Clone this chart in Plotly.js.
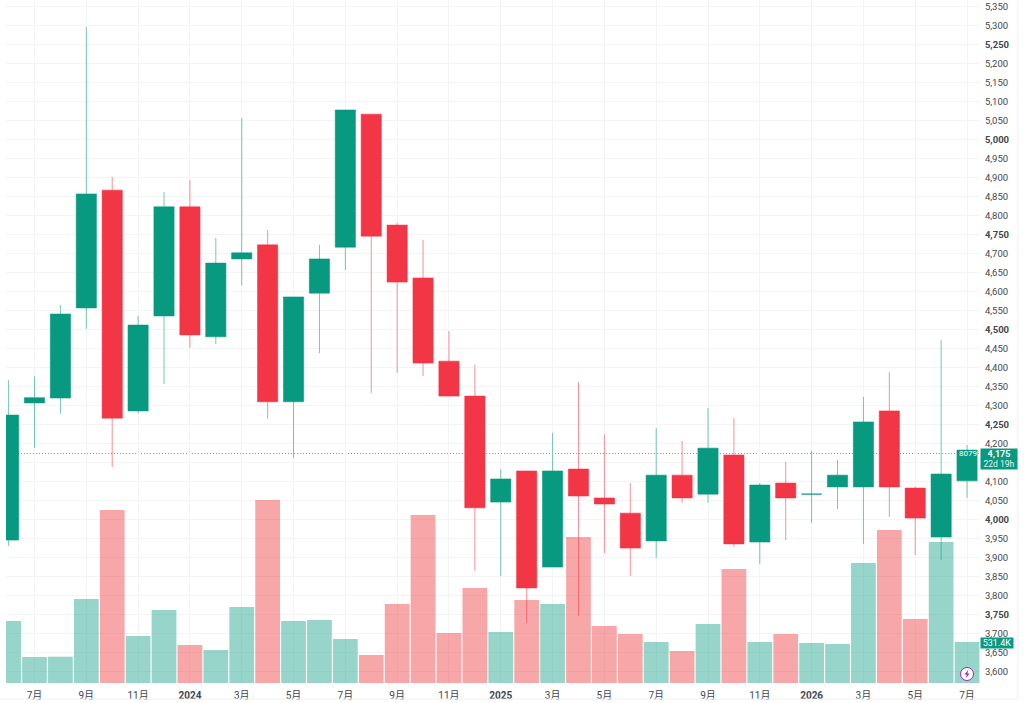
<!DOCTYPE html>
<html><head><meta charset="utf-8">
<script src="https://cdn.plot.ly/plotly-3.0.1.min.js"></script>
<style>html,body{margin:0;padding:0;background:#fff;overflow:hidden}#c{width:1024px;height:703px}</style>
</head><body><div id="c"></div>
<script>
const idx=[0,1,2,3,4,5,6,7,8,9,10,11,12,13,14,15,16,17,18,19,20,21,22,23,24,25,26,27,28,29,30,31,32,33,34,35,36,37];
const opens=[3947,4308,4321,4558,4868,4287,4537,4824,4482,4687,4724,4311,4597,4718,5068,4776,4637,4418,4326,4047,4129,3876,4134,4058,4018,3945,4118,4068,4171,3942,4097,4068,4087,4087,4287,4084,3955,4103];
const highs=[4368,4378,4566,5297,4903,4537,4863,4895,4742,5058,4763,4587,4724,5079,5068,4782,4737,4497,4408,4134,4129,4229,4363,4224,4097,4242,4208,4295,4268,4097,4153,4182,4158,4324,4389,4087,4474,4197];
const lows=[3932,4190,4279,4503,4139,4280,4358,4453,4463,4618,4266,4163,4439,4658,4334,4387,4379,4326,3866,3853,3729,3876,3747,3913,3853,3900,4045,4045,3929,3884,3947,3992,4029,3937,4008,3908,3895,4058];
const closes=[4276,4322,4542,4858,4268,4513,4824,4487,4676,4703,4311,4587,4687,5079,4747,4626,4413,4326,4032,4108,3821,4129,4063,4042,3926,4118,4058,4189,3937,4092,4058,4068,4118,4258,4087,4005,4121,4184];
const volumes=[803,337,341,1089,2242,609,946,492,428,985,2372,803,816,570,363,1024,2177,648,1231,661,1076,1024,1892,739,635,531,415,765,1477,531,635,518,505,1555,1983,829,1827,531.4];
const timeTickVals=[1,3,5,7,9,11,13,15,17,19,21,23,25,27,29,31,33,35,37];
const timeTickText=['7月','9月','11月','<b>2024</b>','3月','5月','7月','9月','11月','<b>2025</b>','3月','5月','7月','9月','11月','<b>2026</b>','3月','5月','7月'];
const priceTicks=[5350,5300,5250,5200,5150,5100,5050,5000,4950,4900,4850,4800,4750,4700,4650,4600,4550,4500,4450,4400,4350,4300,4250,4200,4150,4100,4050,4000,3950,3900,3850,3800,3750,3700,3650,3600];
const strongPrices=[5250,5000,4750,4500,4250,4000,3750];
const coveredPrices=[4150];
const lastPrice=4175, lastPriceText='4,175', lastVolume='531.4K', countdown='22d 19h', userCount='8079';

const UP='#089981', DOWN='#F23645', FONT='Roboto, "Noto Sans CJK SC", sans-serif';
const fmt=v=>String(v).replace(/(\d)(\d{3})$/,'$1,$2');
const priceText=priceTicks.map(v=>coveredPrices.includes(v)?'':strongPrices.includes(v)?'<b>'+fmt(v)+'</b>':fmt(v));

const traces=[
 {type:'bar',x:idx,y:volumes,yaxis:'y',xaxis:'x',width:0.955,hoverinfo:'skip',
  marker:{color:idx.map(i=>closes[i]>=opens[i]?'rgba(8,153,129,0.42)':'rgba(238,60,60,0.45)'),line:{width:0}}},
 {type:'candlestick',x:idx,open:opens,high:highs,low:lows,close:closes,yaxis:'y2',xaxis:'x',whiskerwidth:0,
  increasing:{line:{color:'rgba(8,153,129,0.55)',width:1},fillcolor:UP},
  decreasing:{line:{color:'rgba(242,54,69,0.55)',width:1},fillcolor:DOWN}}
];
const layout={
 width:1024,height:703,margin:{l:6,r:44,t:0,b:20,pad:0},
 paper_bgcolor:'#fff',plot_bgcolor:'#fff',showlegend:false,boxgap:0.22,boxgroupgap:0,barmode:'overlay',
 xaxis:{type:'linear',range:[-0.1,37.5],tickmode:'array',tickvals:timeTickVals,ticktext:timeTickText,rangeslider:{visible:false},
  showgrid:true,gridcolor:'#f4f4f5',gridwidth:1,zeroline:false,showline:false,ticks:'outside',ticklen:3,tickcolor:'rgba(0,0,0,0)',
  tickfont:{family:FONT,size:10,color:'#434651'},tickangle:0,automargin:false},
 yaxis:{range:[0,8852],visible:false,showgrid:false,zeroline:false,fixedrange:true},
 yaxis2:{overlaying:'y',side:'right',range:[3571,5368.4],tickmode:'array',tickvals:priceTicks,ticktext:priceText,
  showgrid:true,gridcolor:'#f4f4f5',gridwidth:1,zeroline:false,showline:false,ticks:'outside',ticklen:2,tickcolor:'rgba(0,0,0,0)',
  tickfont:{family:FONT,size:9.5,color:'#434651'},automargin:false},
 shapes:[
  {type:'line',xref:'paper',yref:'y2',x0:0,x1:1,y0:lastPrice,y1:lastPrice,line:{color:'#4fb8a6',width:1,dash:'1px,2px'},layer:'below'},
  {type:'line',xref:'paper',yref:'paper',x0:1.0388,x1:1.0388,y0:-0.0235,y1:1,line:{color:'#f0f1f4',width:1}},
  {type:'line',xref:'paper',yref:'paper',x0:-0.0062,x1:1.0388,y0:-0.0235,y1:-0.0235,line:{color:'#f0f1f4',width:1}},
  {type:'circle',xref:'x',yref:'paper',xsizemode:'pixel',ysizemode:'pixel',xanchor:37,yanchor:0.0132,x0:-6.5,x1:6.5,y0:-6.5,y1:6.5,
   line:{color:'#9c27b0',width:1},fillcolor:'#fff',layer:'above'},
  {type:'path',xref:'x',yref:'paper',xsizemode:'pixel',ysizemode:'pixel',xanchor:37,yanchor:0.0132,
   path:'M1,4 L-2.5,-0.5 L-0.3,-0.5 L-1,-4 L2.5,0.5 L0.3,0.5 Z',fillcolor:'#9c27b0',line:{width:0},layer:'above'}
 ],
 annotations:[
  {xref:'x',yref:'y2',x:37,y:lastPrice,xshift:1,text:userCount,showarrow:false,font:{family:FONT,size:8,color:'#fff'}},
  {xref:'paper',yref:'y2',x:1,xanchor:'left',y:lastPrice,yanchor:'middle',xshift:0,yshift:-1,width:36,height:10,showarrow:false,
   bgcolor:UP,text:'<b>'+lastPriceText+'</b>',font:{family:FONT,size:9,color:'#fff'},borderpad:0},
  {xref:'paper',yref:'y2',x:1,xanchor:'left',y:lastPrice,yanchor:'middle',xshift:0,yshift:-11,width:36,height:10,showarrow:false,
   bgcolor:UP,text:countdown,font:{family:FONT,size:8.5,color:'#e6f5f2'},borderpad:0},
  {xref:'paper',yref:'y',x:1,xanchor:'left',y:volumes[37],yanchor:'middle',xshift:0,yshift:-1,width:32,height:10,showarrow:false,
   bgcolor:UP,text:lastVolume,font:{family:FONT,size:9,color:'#fff'},borderpad:0}
 ]
};
Plotly.newPlot('c',traces,layout,{staticPlot:true,displayModeBar:false});
</script></body></html>
